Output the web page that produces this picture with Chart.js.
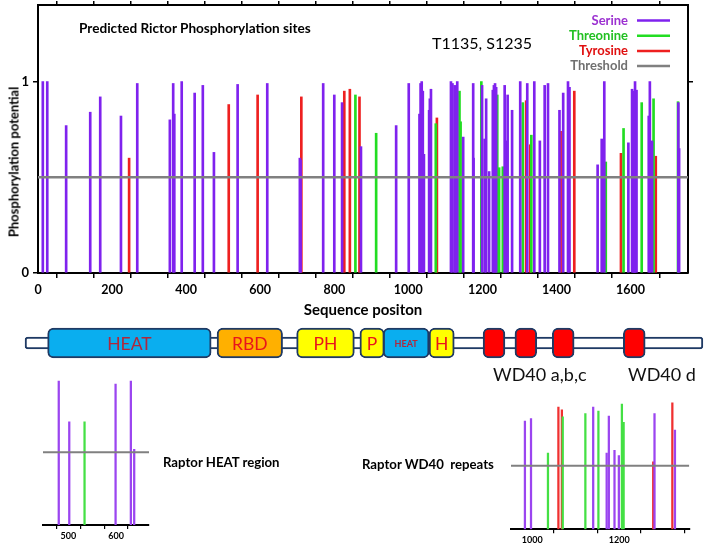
<!DOCTYPE html>
<html>
<head>
<meta charset="utf-8">
<script src="https://cdn.jsdelivr.net/npm/chart.js@4.4.0/dist/chart.umd.min.js"></script>
<style>
  body { margin: 0; background: #fff; }
  #wrap { position: relative; width: 705px; height: 544px; overflow: hidden; font-family: Lato, "Open Sans", sans-serif; }
  canvas { position: absolute; }
  .lbl { position: absolute; white-space: pre; line-height: 1; color: #000; }
</style>
</head>
<body>
<div id="wrap">
  <canvas id="main" width="705" height="320" style="left:0px;top:0px"></canvas>
  <canvas id="domains" width="705" height="50" style="left:0px;top:318px"></canvas>
  <canvas id="heat" width="170" height="174" style="left:0px;top:370px"></canvas>
  <canvas id="wd40" width="205" height="154" style="left:500px;top:390px"></canvas>

  <div class="lbl" style="left:79px;top:22px;font-weight:bold;font-size:13.6px">Predicted Rictor Phosphorylation sites</div>
  <div class="lbl" style="left:432px;top:35px;font-size:16px">T1135, S1235</div>
  <div class="lbl" style="left:14px;top:162px;font-weight:bold;font-size:13px;transform:translate(-50%,-50%) rotate(-90deg)">Phosphorylation potential</div>
  <div class="lbl" style="left:493px;top:365px;font-size:18px;color:#111">WD40 a,b,c</div>
  <div class="lbl" style="left:628px;top:365px;font-size:18px;color:#111">WD40 d</div>
  <div class="lbl" style="left:163px;top:456px;font-weight:bold;font-size:13.2px">Raptor HEAT region</div>
  <div class="lbl" style="left:362px;top:458px;font-weight:bold;font-size:13.2px">Raptor WD40  repeats</div>
</div>

<script>
// ---- main plot: predicted Rictor sites ----
const serinePos = [13, 25, 76, 141, 168, 224, 268, 356, 365, 368, 388, 423, 445, 475, 539, 619,
  707, 709, 770, 800, 821, 872, 967, 1001, 1030, 1033, 1036, 1039, 1042, 1056, 1058, 1061,
  1115, 1119, 1125, 1127, 1132, 1148, 1175, 1176, 1199, 1206, 1210, 1218, 1228, 1231, 1234, 1237,
  1260, 1263, 1268, 1280, 1302, 1321, 1340, 1355, 1368, 1377, 1408, 1418, 1431, 1435,
  1511, 1522, 1529, 1594, 1604, 1608, 1610, 1612, 1616, 1649, 1652, 1658, 1729, 1731];
const serineVal = [1.0, 1.0, 0.77, 0.84, 0.92, 0.82, 0.99, 0.80, 0.99, 0.83, 1.0, 0.94, 0.98, 0.63, 0.985, 0.99,
  0.60, 0.59, 0.99, 0.93, 0.89, 0.66, 0.77, 0.99, 0.83, 0.99, 1.0, 0.95, 0.62, 0.85, 0.91, 0.96,
  1.0, 0.99, 0.98, 0.94, 1.0, 0.71, 0.99, 0.60, 0.98, 0.70, 0.91, 0.53, 0.955, 0.98, 0.99, 0.97,
  0.98, 0.69, 0.93, 0.85, 1.0, 0.99, 1.0, 0.69, 0.98, 0.99, 0.85, 0.94, 1.0, 0.97,
  0.565, 0.70, 1.0, 0.68, 0.96, 0.95, 0.60, 1.0, 0.955, 0.82, 1.0, 0.69, 0.89, 0.65];

const threoninePos = [857, 913, 1074, 1138, 1141, 1197, 1240, 1245, 1255, 1309, 1332, 1533, 1581, 1630, 1662, 1728];
const threonineVal = [0.93, 0.73, 0.78, 0.95, 0.79, 1.0, 0.93, 0.55, 0.555, 0.89, 0.72, 0.58, 0.755, 0.89, 0.91, 0.895];

const tyrosinePos = [246, 515, 593, 711, 827, 842, 868, 1077, 1318, 1329, 1411, 1448, 1574, 1668];
const tyrosineVal = [0.60, 0.88, 0.93, 0.92, 0.95, 0.96, 0.92, 0.81, 0.90, 0.67, 0.74, 0.95, 0.625, 0.61];

const threshold = 0.5;
const seqLength = 1755;
const yTicks = [0, 1];

// ---- domain diagram (residue-like units) ----
const backbone = [-35, 1797];
const domainNames = ['HEAT', 'RBD', 'PH', 'P', 'HEAT', 'H', '', '', '', ''];
const domainStart = [26, 484, 699, 870, 933, 1057, 1203, 1289, 1390, 1582];
const domainEnd   = [468, 661, 855, 936, 1057, 1125, 1262, 1348, 1449, 1641];
const domainKind  = ['heat', 'rbd', 'ph', 'ph', 'heat', 'ph', 'wd', 'wd', 'wd', 'wd'];

// ---- Raptor insets ----
const heatPos  = [480, 502, 534, 599, 631, 638];
const heatVal  = [0.99, 0.71, 0.71, 0.97, 0.99, 0.52];
const heatType = ['S', 'S', 'T', 'S', 'S', 'S'];

const wdPos  = [983, 997, 1036, 1060, 1068, 1070, 1122, 1140, 1152, 1171, 1176, 1189, 1199, 1206, 1210, 1278, 1281, 1322, 1328];
const wdVal  = [0.85, 0.87, 0.60, 0.96, 0.94, 0.885, 0.91, 0.96, 0.93, 0.60, 0.89, 0.62, 0.58, 0.985, 0.84, 0.53, 0.91, 0.995, 0.78];
const wdType = ['S', 'S', 'T', 'Y', 'Y', 'T', 'T', 'S', 'T', 'S', 'S', 'S', 'S', 'T', 'T', 'Y', 'S', 'Y', 'S'];

const PURPLE = '#7F22EE', GREEN = '#22DD22', RED = '#EE2020', GRAY = '#808080';
const FONT = 'Lato, "Open Sans", sans-serif';

pts = (pos, val) => pos.map((p, i) => ({ x: p, y: val[i] }));

// fixed axis sizes, no label overflow padding
fixSize = (w, h) => (s) => {
  if (w !== null) s.width = w;
  if (h !== null) s.height = h;
  s.paddingTop = 0; s.paddingBottom = 0; s.paddingLeft = 0; s.paddingRight = 0;
};

// legend drawn on the right, text before the line sample
const legendItems = [
  { text: 'Serine', color: '#9B30D0', line: PURPLE },
  { text: 'Threonine', color: '#22C022', line: GREEN },
  { text: 'Tyrosine', color: '#E01010', line: RED },
  { text: 'Threshold', color: '#707070', line: GRAY },
];
const sideLegend = {
  id: 'sideLegend',
  afterDraw(chart) {
    const ctx = chart.ctx;
    ctx.save();
    ctx.font = 'bold 13px ' + FONT;
    ctx.textAlign = 'right';
    ctx.textBaseline = 'middle';
    legendItems.forEach((it, i) => {
      const y = 20.5 + i * 15.2;
      ctx.fillStyle = it.color;
      ctx.fillText(it.text, 628, y);
      ctx.strokeStyle = it.line;
      ctx.lineWidth = 2.5;
      ctx.beginPath();
      ctx.moveTo(637, y);
      ctx.lineTo(670, y);
      ctx.stroke();
    });
    ctx.restore();
  }
};

const tickFont = { family: FONT, weight: 'bold', size: 12.5 };

new Chart(document.getElementById('main'), {
  type: 'bar',
  data: {
    datasets: [
      { label: 'Serine', data: pts(serinePos, serineVal), backgroundColor: PURPLE, barThickness: 2, grouped: false },
      { label: 'Threonine', data: pts(threoninePos, threonineVal), backgroundColor: GREEN, barThickness: 2, grouped: false },
      { label: 'Tyrosine', data: pts(tyrosinePos, tyrosineVal), backgroundColor: RED, barThickness: 2, grouped: false },
      { type: 'line', label: 'Threshold', data: [{ x: 0, y: threshold }, { x: seqLength, y: threshold }],
        borderColor: GRAY, borderWidth: 2.5, pointRadius: 0, order: -1 },
    ],
  },
  options: {
    responsive: false,
    animation: false,
    layout: { padding: { left: 0, top: 5, right: 17, bottom: 0 } },
    plugins: { legend: { display: false }, tooltip: { enabled: false } },
    scales: {
      x: {
        type: 'linear', min: 0, max: seqLength, offset: false,
        ticks: { stepSize: 100, autoSkip: false, maxRotation: 0, padding: 4, color: '#000', font: tickFont,
          callback: (v) => (v % 200 === 0 ? v : '') },
        grid: { drawOnChartArea: false, tickLength: 5, color: '#000', lineWidth: 1.5 },
        border: { color: '#000', width: 2 },
        title: { display: true, text: 'Sequence positon', color: '#000',
          font: { family: FONT, weight: 'bold', size: 15 }, padding: { top: 0, bottom: 1 } },
        afterFit: fixSize(null, 47),
      },
      x2: {
        type: 'linear', position: 'top', min: 0, max: seqLength, offset: false,
        ticks: { stepSize: 100, display: false },
        grid: { drawOnChartArea: false, tickLength: 4, color: '#000', lineWidth: 1.5 },
        border: { color: '#000', width: 2 },
        afterFit: fixSize(null, 0),
      },
      y: {
        min: 0, max: 1.4,
        afterBuildTicks: (s) => { s.ticks = yTicks.map((v) => ({ value: v })); },
        ticks: { color: '#000', font: { family: FONT, weight: 'bold', size: 13 }, padding: 4 },
        grid: { drawOnChartArea: false, tickLength: 5, color: '#000', lineWidth: 1.5 },
        border: { color: '#000', width: 2 },
        afterFit: fixSize(38, null),
      },
      y2: {
        position: 'right', min: 0, max: 1.4,
        afterBuildTicks: (s) => { s.ticks = [{ value: 1 }]; },
        ticks: { display: false },
        grid: { drawOnChartArea: false, tickLength: 5, color: '#000', lineWidth: 1.5 },
        border: { color: '#000', width: 2 },
        afterFit: fixSize(0, null),
      },
    },
  },
  plugins: [sideLegend],
});

// ---- domain diagram ----
const kindFill = { heat: '#0AAEEF', rbd: '#FFB000', ph: '#FFFF00', wd: '#FF0000' };
const kindText = { heat: '#B0283C', rbd: '#E8141C', ph: '#E8141C', wd: '#E8141C' };
const domainLabels = {
  id: 'domainLabels',
  afterDatasetsDraw(chart) {
    const ctx = chart.ctx;
    const meta = chart.getDatasetMeta(0);
    ctx.save();
    ctx.textAlign = 'center';
    ctx.textBaseline = 'middle';
    meta.data.forEach((el, i) => {
      const name = domainNames[i];
      if (!name) return;
      // the short HEAT box carries a small bold label
      const small = domainKind[i] === 'heat' && (domainEnd[i] - domainStart[i]) < 200;
      ctx.font = small ? 'bold 9px ' + FONT : '17.5px ' + FONT;
      ctx.fillStyle = kindText[domainKind[i]];
      ctx.fillText(name, (el.x + el.base) / 2, el.y + 1);
    });
    ctx.restore();
  }
};

new Chart(document.getElementById('domains'), {
  type: 'bar',
  data: {
    datasets: [
      { data: domainStart.map((s, i) => ({ y: 0, x: [s, domainEnd[i]] })),
        backgroundColor: domainKind.map((k) => kindFill[k]), borderColor: '#1F3A64', borderWidth: 2,
        borderSkipped: false, borderRadius: 6, barThickness: 30, grouped: false },
      { data: [{ y: 0, x: backbone }], backgroundColor: '#fff', borderColor: '#1F3A64', borderWidth: 2,
        borderSkipped: false, borderRadius: 3, barThickness: 12, grouped: false },
    ],
  },
  options: {
    indexAxis: 'y',
    responsive: false,
    animation: false,
    layout: { padding: 0 },
    plugins: { legend: { display: false }, tooltip: { enabled: false } },
    scales: {
      x: { type: 'linear', min: -102.7, max: 1802.7, display: false },
      y: { type: 'linear', min: -1, max: 1, display: false },
    },
  },
  plugins: [domainLabels],
});

// ---- Raptor insets ----
const insetColor = { S: '#9B45F0', T: '#44E044', Y: '#F03030' };
function makeInset(id, pos, val, type, xMin, xMax, tickVals, labelStep, pad, axisH, tickPad) {
  const datasets = ['S', 'T', 'Y'].map((t) => ({
    data: pos.map((p, i) => ({ x: p, y: val[i], t: type[i] })).filter((d) => d.t === t),
    backgroundColor: insetColor[t], barThickness: 1.6, grouped: false,
  }));
  datasets.push({ type: 'line', data: [{ x: xMin, y: threshold }, { x: xMax, y: threshold }],
    borderColor: GRAY, borderWidth: 2, pointRadius: 0, order: -1 });
  return new Chart(document.getElementById(id), {
    type: 'bar',
    data: { datasets },
    options: {
      responsive: false,
      animation: false,
      layout: { padding: pad },
      plugins: { legend: { display: false }, tooltip: { enabled: false } },
      scales: {
        x: {
          type: 'linear', min: xMin, max: xMax, offset: false,
          afterBuildTicks: (s) => { s.ticks = tickVals.map((v) => ({ value: v })); },
          ticks: { autoSkip: false, maxRotation: 0, padding: tickPad, color: '#000',
            font: { family: FONT, weight: 'bold', size: 9 },
            callback: (v) => (v % labelStep === 0 ? v : '') },
          grid: { drawOnChartArea: false, tickLength: 4, color: '#000', lineWidth: 1.2 },
          border: { color: '#000', width: 2 },
          afterFit: fixSize(null, axisH),
        },
        y: { min: 0, max: 1, display: false },
      },
    },
  });
}

makeInset('heat', heatPos, heatVal, heatType, 447, 669, [500, 550, 600, 650], 100,
  { left: 43, right: 21, top: 9.6, bottom: 0 }, 19, 2);
makeInset('wd40', wdPos, wdVal, wdType, 951, 1361, [1000, 1100, 1200, 1300], 200,
  { left: 11, right: 15.7, top: 12.1, bottom: 0 }, 14.7, 1.5);
</script>
</body>
</html>
